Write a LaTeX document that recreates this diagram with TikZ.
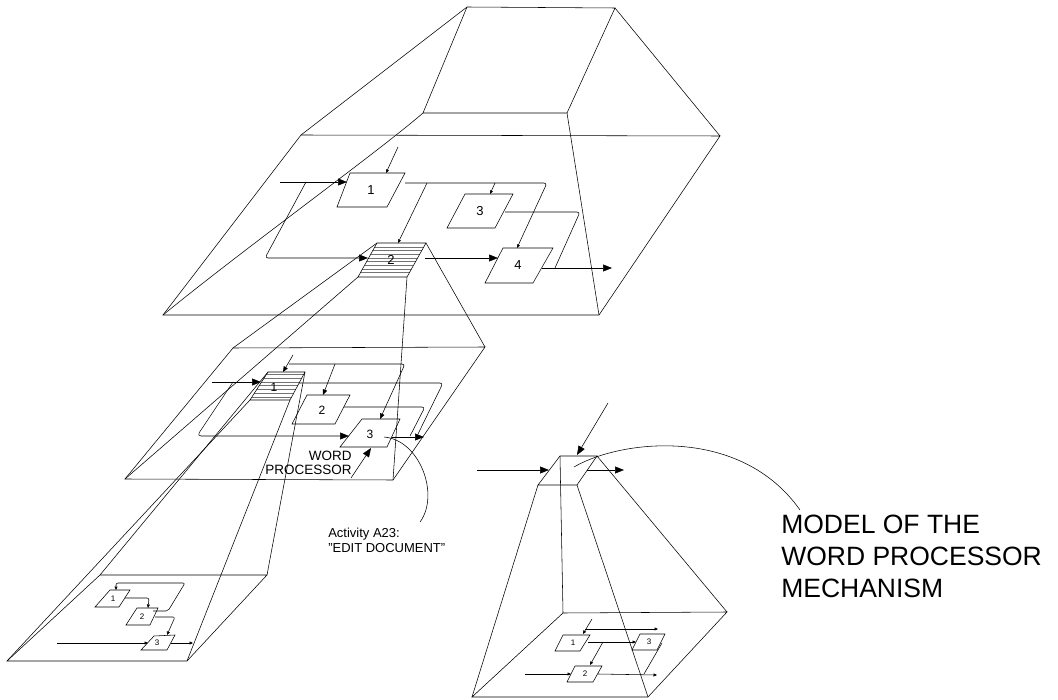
\documentclass[tikz,border=0pt]{standalone}
\usepackage{fontspec}
\setmainfont{Liberation Sans}
\usetikzlibrary{arrows.meta}

\begin{document}
\begin{tikzpicture}[x=1pt,y=-1pt,line width=0.55pt,
  bigarr/.style={-{Triangle[length=9pt,width=7pt]}},
  midarr/.style={-{Triangle[length=5.5pt,width=4.5pt]}},
  tinyarr/.style={-{Triangle[length=3.5pt,width=3pt]}},
  hatch/.style={line width=0.3pt,black!55},
  numA/.style={inner sep=0pt,font=\fontsize{13}{13}\selectfont},
  numB/.style={inner sep=0pt,font=\fontsize{12}{12}\selectfont},
  numC/.style={inner sep=0pt,font=\fontsize{8}{8}\selectfont}]
  \useasboundingbox (0,0) rectangle (1058,700);

  % 上层棱台
  \coordinate (Ta) at (467,7);
  \coordinate (Tb) at (615,8);
  \coordinate (Tc) at (567,113);
  \coordinate (Td) at (423,113);
  \coordinate (Pa) at (301,135);
  \coordinate (Pb) at (720,136);
  \coordinate (Pc) at (599,315);
  \coordinate (Pd) at (163,315);
  \draw (Ta) -- (Tb) -- (Tc) -- (Td) -- cycle;
  \draw (Pa) -- (Pb) -- (Pc) -- (Pd) -- cycle;
  \draw (Ta) -- (Pa);
  \draw (Tb) -- (Pb);
  \draw (Tc) -- (Pc);
  \draw (Td) .. controls (378,152) and (245,248) .. (Pd);

  % 上层方框
  \draw (350,173) -- (405,173) -- (387,207) -- (337,207) -- cycle;
  \node[numA] (t1) at (371,190) {1};
  \draw (465,194) -- (513,194) -- (495,228) -- (447,228) -- cycle;
  \node[numA] (t3) at (480,211) {3};
  \draw (503,248) -- (553,248) -- (533,283) -- (485,283) -- cycle;
  \node[numA] (t4) at (518,265) {4};
  \coordinate (T2a) at (377,243);
  \coordinate (T2b) at (426,243);
  \coordinate (T2c) at (407,277);
  \coordinate (T2d) at (358,277);
  \begin{scope}
    \clip (T2a) -- (T2b) -- (T2c) -- (T2d) -- cycle;
    \foreach \y in {246.7,250.4,...,276} \draw[hatch] (350,\y) -- (430,\y);
  \end{scope}
  \draw (T2a) -- (T2b) -- (T2c) -- (T2d) -- cycle;
  \node[numA] (t2) at (391,260) {2};

  % 上层箭头
  \draw[bigarr] (280,182) -- (347,182);
  \draw[bigarr,rounded corners=3pt] (306,182) -- (265,258) -- (368,258);
  \draw[tinyarr] (398,147) -- (386,173);
  \draw[tinyarr,rounded corners=3pt] (405,183) -- (547,183) -- (517,248);
  \draw[tinyarr] (427,183) -- (398,243);
  \draw[tinyarr] (495,183) -- (490,194);
  \draw[rounded corners=3pt] (505,212) -- (580,212) -- (555,268);
  \draw[bigarr] (425,258) -- (498,258);
  \draw[bigarr] (542,268) -- (612,268);

  % 中层平面
  \coordinate (Ma) at (233,348);
  \coordinate (Mb) at (485,347);
  \coordinate (Mc) at (393,480);
  \coordinate (Md) at (125,479);
  \draw (Ma) -- (Mb) -- (Mc) -- (Md) -- cycle;
  \draw (T2a) -- (Ma);
  \draw (T2b) -- (Mb);
  \draw (T2c) -- (Mc);
  \draw (T2d) -- (Md);

  % 中层方框
  \coordinate (M1a) at (268,372);
  \coordinate (M1b) at (305,372);
  \coordinate (M1c) at (290,400);
  \coordinate (M1d) at (250,400);
  \begin{scope}
    \clip (M1a) -- (M1b) -- (M1c) -- (M1d) -- cycle;
    \foreach \y in {374.5,378.2,...,400} \draw[hatch] (240,\y) -- (310,\y);
  \end{scope}
  \draw (M1a) -- (M1b) -- (M1c) -- (M1d) -- cycle;
  \node[numB] (m1) at (274,387) {1};
  \draw (307,395) -- (350,395) -- (335,424) -- (292,424) -- cycle;
  \node[numB] (m2) at (322,410) {2};
  \draw (362,419) -- (400,419) -- (387,447) -- (340,447) -- cycle;
  \node[numB] (m3) at (370,434) {3};

  % 中层箭头
  \draw[bigarr] (212,382) -- (261,382);
  \draw[bigarr,rounded corners=4pt] (233,382) -- (197,436) -- (349,436);
  \draw[midarr] (293,355) -- (283,372);
  \draw[midarr,rounded corners=3pt] (289,364) -- (405,364) -- (380,419);
  \draw[midarr] (335,364) -- (323,395);
  \draw[rounded corners=3pt] (299,383) -- (443,383) -- (418,434);
  \draw[rounded corners=3pt] (344,407) -- (425,407) -- (410,436);
  \draw[bigarr] (392,437) -- (424,437);
  \draw[bigarr] (351,478) -- (371,448);
  \node[align=right,anchor=south east,inner sep=0pt,
        font=\fontsize{13.5}{14.5}\selectfont] (wp) at (352,475) {WORD\\PROCESSOR};
  \draw (384,437) .. controls (420,440) and (440,495) .. (420,522);
  \node[align=left,anchor=north west,inner sep=0pt,
        font=\fontsize{13}{15}\selectfont] (act) at (328,528) {Activity A23:\\"EDIT DOCUMENT"};

  % 下层平面
  \coordinate (Ba) at (100,575);
  \coordinate (Bb) at (267,575);
  \coordinate (Bc) at (187,661);
  \coordinate (Bd) at (7,661);
  \draw (Ba) -- (Bb) -- (Bc) -- (Bd) -- cycle;
  \draw (M1a) -- (Ba);
  \draw (M1b) -- (Bb);
  \draw (M1c) -- (Bc);
  \draw (M1d) -- (Bd);
  \draw (110,590) -- (130,590) -- (119,607) -- (95,607) -- cycle;
  \node[numC] (b1) at (113,599) {1};
  \draw (137,608) -- (158,608) -- (150,625) -- (126,625) -- cycle;
  \node[numC] (b2) at (142,617) {2};
  \draw (154,636) -- (175,635) -- (167,650) -- (141,650) -- cycle;
  \node[numC] (b3) at (157,643) {3};
  \draw[tinyarr,rounded corners=2pt] (153,611) -- (168,611) -- (185,583) -- (116,583) -- (116,590);
  \draw[tinyarr,rounded corners=2pt] (125,598) -- (149,598) -- (148,608);
  \draw[tinyarr,rounded corners=2pt] (155,617) -- (175,617) -- (167,635);
  \draw[tinyarr] (57,643) -- (148,643);
  \draw[tinyarr] (171,643) -- (193,643);

  % 右侧机制模型
  \coordinate (Ra) at (560,456);
  \coordinate (Rb) at (597,456);
  \coordinate (Rc) at (577,485);
  \coordinate (Rd) at (538,485);
  \coordinate (Re) at (563,613);
  \coordinate (Rf) at (727,612);
  \coordinate (Rg) at (648,697);
  \coordinate (Rh) at (472,697);
  \draw (Ra) -- (Rb) -- (Rc) -- (Rd) -- cycle;
  \draw (Re) -- (Rf) -- (Rg) -- (Rh) -- cycle;
  \draw (Ra) -- (Re);
  \draw (Rb) -- (Rf);
  \draw (Rc) -- (Rg);
  \draw (Rd) -- (Rh);
  \draw[bigarr] (477,470) -- (549,470);
  \draw[bigarr] (608,403) -- (577,455);
  \draw[bigarr] (587,470) -- (624,470);
  \draw (574,467) .. controls (620,440) and (740,425) .. (800,510);
  \node[align=left,anchor=north west,inner sep=0pt,
        font=\fontsize{26.5}{32}\selectfont] (model) at (781,515) {MODEL OF THE\\WORD PROCESSOR\\MECHANISM};

  \draw (563,635) -- (590,635) -- (580,651) -- (555,651) -- cycle;
  \node[numC] (r1) at (573,643) {1};
  \draw (640,634) -- (665,634) -- (657,650) -- (632,650) -- cycle;
  \node[numC] (r3) at (649,642) {3};
  \draw (575,666) -- (602,666) -- (593,682) -- (567,682) -- cycle;
  \node[numC] (r2) at (585,674) {2};
  \draw[tinyarr] (592,619) -- (583,634);
  \draw[tinyarr] (585,629) -- (658,629);
  \draw[tinyarr] (588,642) -- (636,642);
  \draw[tinyarr] (603,642) -- (590,665);
  \draw[tinyarr] (525,674) -- (571,674);
  \draw[tinyarr] (598,674) -- (657,675);
  \draw (662,643) -- (644,674);
\end{tikzpicture}
\end{document}
